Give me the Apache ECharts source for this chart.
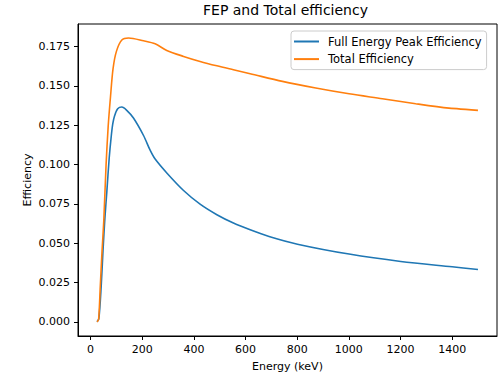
<!DOCTYPE html>
<html>
<head>
<meta charset="utf-8">
<script src="https://cdn.jsdelivr.net/npm/echarts@6/dist/echarts.min.js"></script>
<style>
  html, body { margin: 0; padding: 0; background: #fff; }
  #chart { width: 498px; height: 374px; }
</style>
</head>
<body>
<div id="chart"></div>
<script>
// values
const energyFep = [25, 32, 41, 48, 55, 63, 72, 80, 86, 93, 105, 121, 140, 166, 205, 231, 250, 296, 360, 424, 489, 553, 618, 691, 801, 1001, 1201, 1400, 1500]
const fepEff = [0.000, 0.002, 0.0225, 0.045, 0.065, 0.083, 0.104, 0.118, 0.126, 0.131, 0.1355, 0.1366, 0.1345, 0.1296, 0.1185, 0.109, 0.1035, 0.0945, 0.0835, 0.0748, 0.0681, 0.0628, 0.0585, 0.0543, 0.0494, 0.0431, 0.0384, 0.0350, 0.0333]

const energyTotal = [25, 31, 37.5, 44, 51, 60, 68, 77, 87, 100, 121, 147, 205, 250, 295, 360, 424, 489, 553, 618, 743, 872, 1001, 1130, 1259, 1388, 1500]
const totalEff = [0.000, 0.0015, 0.0225, 0.044, 0.064, 0.100, 0.124, 0.143, 0.161, 0.172, 0.1792, 0.1805, 0.1787, 0.1768, 0.1726, 0.1688, 0.1656, 0.1628, 0.1603, 0.1578, 0.1529, 0.1487, 0.1450, 0.1419, 0.1387, 0.1359, 0.1345]

const xTicks = [0, 200, 400, 600, 800, 1000, 1200, 1400]
const yTicks = [0, 0.025, 0.05, 0.075, 0.1, 0.125, 0.15, 0.175]

const font = 'DejaVu Sans'
const chart = echarts.init(document.getElementById('chart'), null, { renderer: 'svg' })

const option = {
  animation: false,
  backgroundColor: '#fff',
  title: {
    text: 'FEP and Total efficiency',
    left: 203,
    top: 3,
    padding: 0,
    textStyle: { fontFamily: font, fontSize: 14, fontWeight: 'normal', color: '#000' }
  },
  legend: {
    orient: 'vertical',
    left: 291,
    top: 31,
    padding: [4, 5, 4, 3],
    itemWidth: 25,
    itemHeight: 2,
    itemGap: 4.6,
    icon: 'rect',
    backgroundColor: 'rgba(255,255,255,0.8)',
    borderColor: '#cccccc',
    borderWidth: 1,
    borderRadius: 3,
    textStyle: { fontFamily: font, fontSize: 11.5, color: '#000', lineHeight: 13, padding: [0, 0, 0, 4] },
    data: ['Full Energy Peak Efficiency', 'Total Efficiency']
  },
  grid: {
    left: 78,
    right: 1,
    top: 24,
    bottom: 38,
    outerBoundsMode: 'none',
    show: true,
    borderColor: '#000',
    borderWidth: 1,
    backgroundColor: 'transparent'
  },
  xAxis: {
    type: 'value',
    min: -48.75,
    max: 1573.75,
    name: 'Energy (keV)',
    nameLocation: 'middle',
    nameGap: 25,
    nameMoveOverlap: false,
    nameTextStyle: { fontFamily: font, fontSize: 11, color: '#000' },
    axisLine: { show: true, onZero: false, lineStyle: { color: '#000', width: 1 } },
    axisTick: { show: true, length: 4, customValues: xTicks, lineStyle: { color: '#000' } },
    axisLabel: {
      customValues: xTicks,
      margin: 8,
      fontFamily: font,
      fontSize: 11,
      color: '#000',
      formatter: v => String(v)
    },
    splitLine: { show: false }
  },
  yAxis: {
    type: 'value',
    min: -0.009,
    max: 0.1894,
    name: 'Efficiency',
    nameLocation: 'middle',
    nameGap: 45,
    nameRotate: 90,
    nameMoveOverlap: false,
    nameTextStyle: { fontFamily: font, fontSize: 11, color: '#000' },
    axisLine: { show: true, onZero: false, lineStyle: { color: '#000', width: 1 } },
    axisTick: { show: true, length: 4, customValues: yTicks, lineStyle: { color: '#000' } },
    axisLabel: {
      customValues: yTicks,
      margin: 8,
      fontFamily: font,
      fontSize: 11,
      color: '#000',
      formatter: v => v.toFixed(3)
    },
    splitLine: { show: false }
  },
  series: [
    {
      name: 'Full Energy Peak Efficiency',
      type: 'line',
      showSymbol: false,
      symbol: 'none',
      smooth: 0.3,
      color: '#1f77b4',
      lineStyle: { width: 1.6, color: '#1f77b4' },
      data: energyFep.map((e, i) => [e, fepEff[i]])
    },
    {
      name: 'Total Efficiency',
      type: 'line',
      showSymbol: false,
      symbol: 'none',
      smooth: 0.3,
      color: '#ff7f0e',
      lineStyle: { width: 1.6, color: '#ff7f0e' },
      data: energyTotal.map((e, i) => [e, totalEff[i]])
    }
  ]
}

chart.setOption(option)
</script>
</body>
</html>
